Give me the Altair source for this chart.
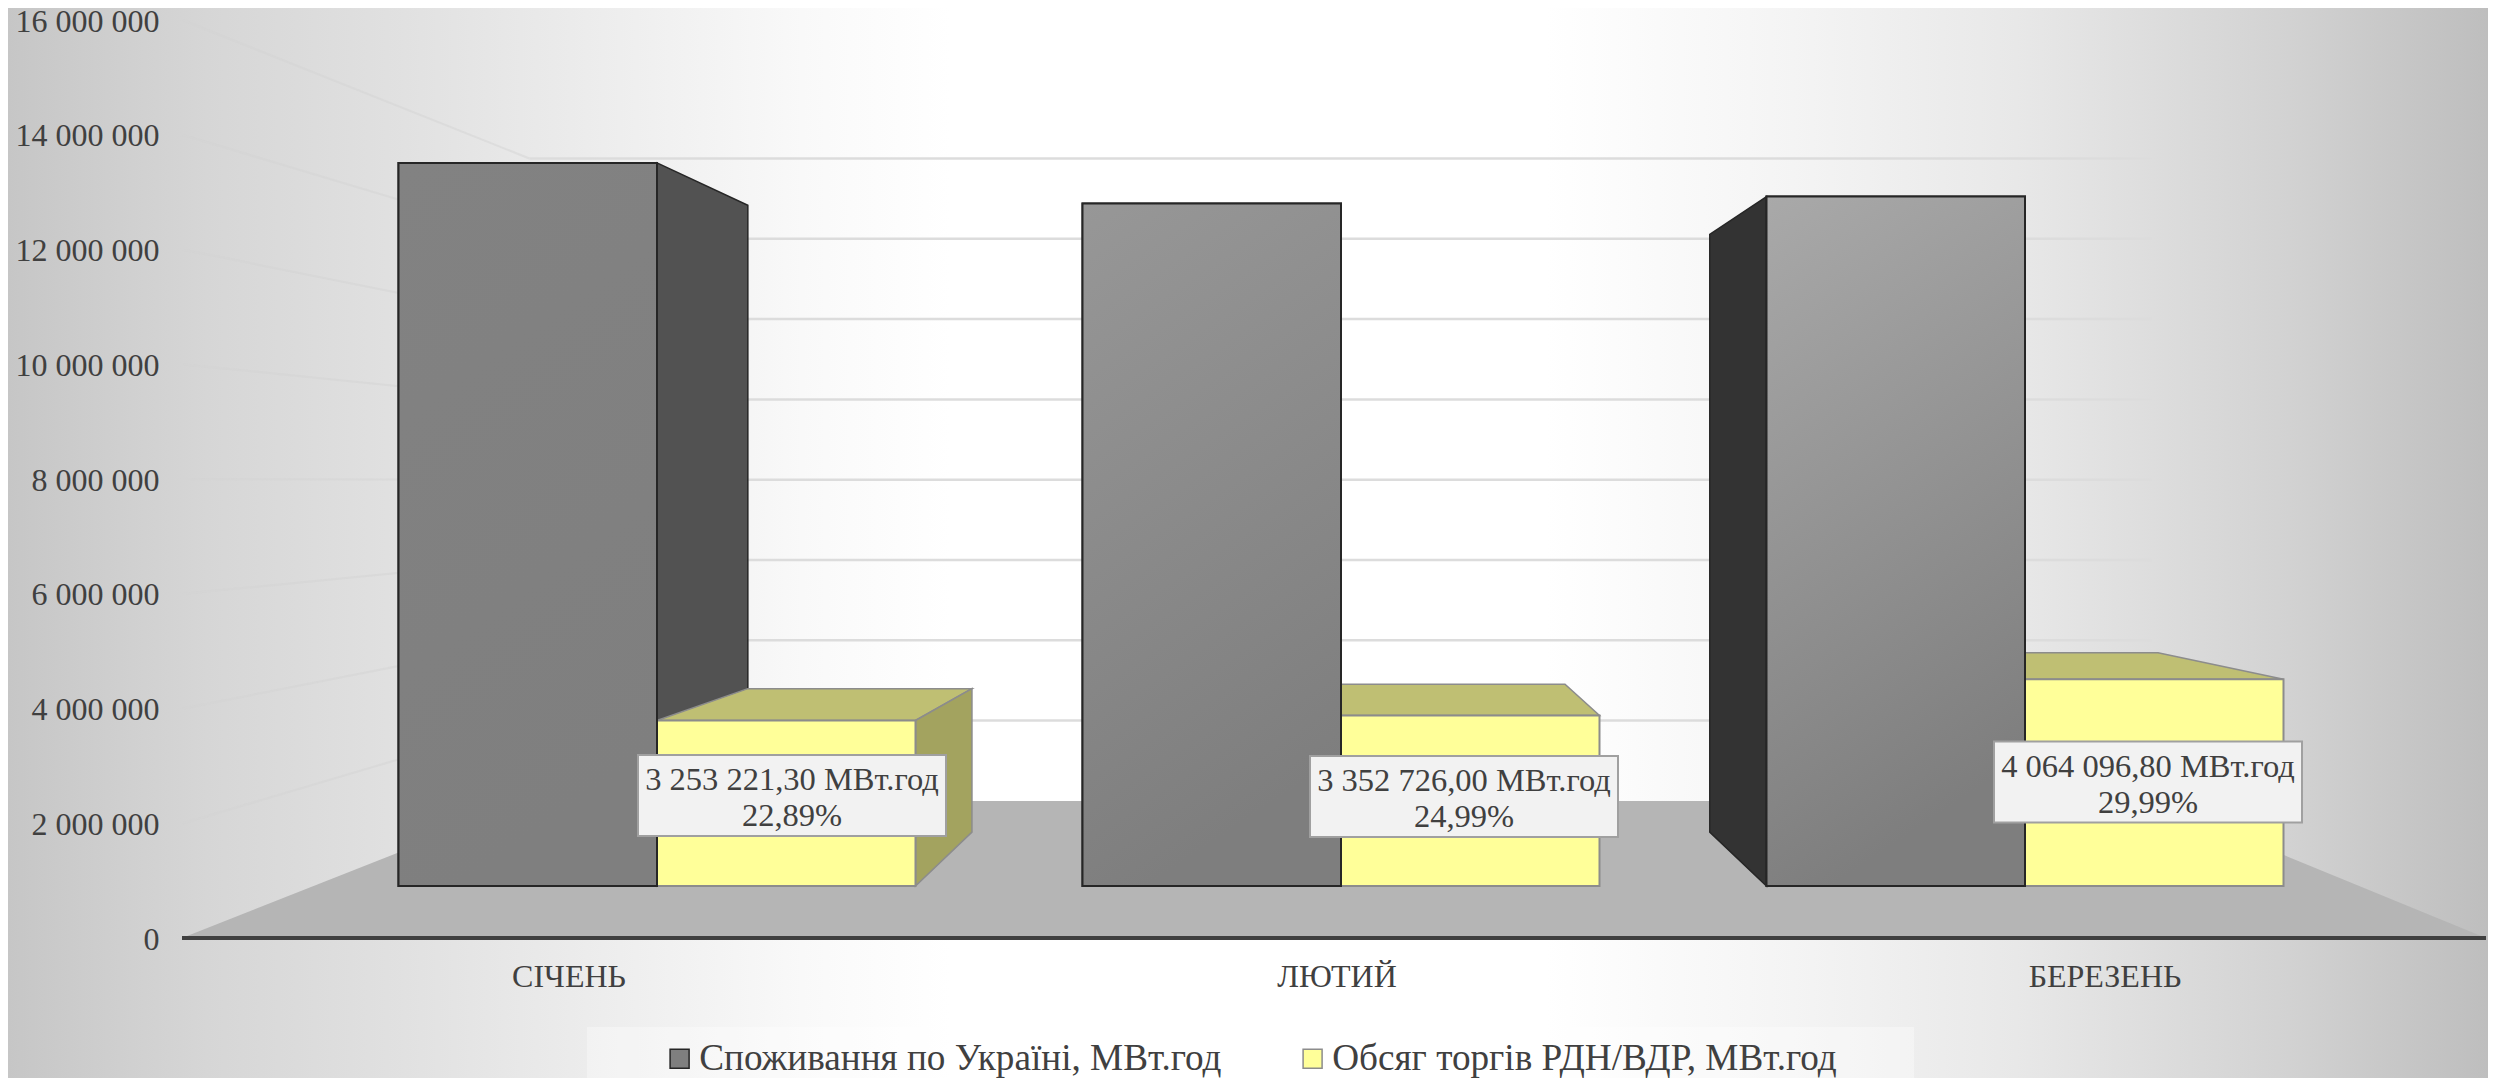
import altair as alt
import pandas as pd

# ---- chart values ----
MONTHS = ["СІЧЕНЬ", "ЛЮТИЙ", "БЕРЕЗЕНЬ"]
SERIES = ["Споживання по Україні, МВт.год", "Обсяг торгів РДН/ВДР, МВт.год"]
CONSUMPTION = [14212000, 13416000, 13551000]
TRADED = [3253221.30, 3352726.00, 4064096.80]
TRADED_LABELS = ["3 253 221,30 МВт.год", "3 352 726,00 МВт.год", "4 064 096,80 МВт.год"]
SHARE_LABELS = ["22,89%", "24,99%", "29,99%"]
AXIS_TICKS = [0, 2000000, 4000000, 6000000, 8000000, 10000000, 12000000, 14000000, 16000000]

# ---- layout: a small perspective model, in page pixels ----
W, H = 2480, 1070
Y0_PX, PX_PER_UNIT = 938.0, 57.36 / 1e6
def Yv(px):
    return (Y0_PX - px) / PX_PER_UNIT
VP_X, VP_Y = 1340.0, Yv(481)       # vanishing point
T_WALL, T_BAR = 0.30, 0.133        # depth of the back wall and of a bar
BAR_FORESHORTEN = 0.887
BASE = Yv(886)
FLOOR_X0, FLOOR_X1 = 182, 2486
BAR_MID = [657, 1341, 2025]
HALF = 258.5
LABEL_X = [792, 1464, 2148]
LABEL_Y = [795.5, 796.5, 782]
CAT_X = [569, 1337, 2105]
FONT = "Liberation Serif"
TXT = "#404040"

def back(x, y, t):
    return x + t * (VP_X - x), y + t * (VP_Y - y)

AXIS = alt.Axis(
    values=AXIS_TICKS, title=None, grid=False, domain=False, ticks=False, zindex=1,
    labelExpr="replace(format(datum.value, ','), /,/g, ' ')",
    labelFont=FONT, labelFontSize=32, labelColor=TXT, labelPadding=-151, labelOffset=1,
    labelAlign="right", labelBaseline="middle", labelOverlap=False, labelBound=False, labelFlush=False)

xs = alt.Scale(domain=[8, 8 + W], nice=False, zero=False)
ys = alt.Scale(domain=[Yv(8 + H), Yv(8)], nice=False, zero=False)
X = lambda f="x": alt.X(f"{f}:Q", scale=xs, axis=None)
Y = lambda f="y": alt.Y(f"{f}:Q", scale=ys, axis=AXIS)
X2 = lambda f="x2": alt.X2(f"{f}:Q")
Y2 = lambda f="y2": alt.Y2(f"{f}:Q")

def grad(stops, **k):
    return alt.LinearGradient(gradient="linear",
                              stops=[alt.GradientStop(color=c, offset=o) for o, c in stops], **k)

layers = []
def rect(x, x2, y, y2, **mk):
    return alt.Chart(pd.DataFrame([dict(x=x, x2=x2, y=y, y2=y2)])).mark_rect(**mk).encode(
        x=X(), x2=X2(), y=Y(), y2=Y2())

# background
layers.append(rect(8, 8 + W, Yv(8), Yv(8 + H), color=grad(
    [(0, "#c6c6c6"), (0.08, "#d6d6d6"), (0.16, "#e1e1e1"), (0.24, "#ededed"), (0.32, "#f9f9f9"),
     (0.38, "#ffffff"), (0.62, "#ffffff"), (0.72, "#f4f4f4"), (0.81, "#e8e8e8"), (0.86, "#dedede"),
     (0.92, "#d2d2d2"), (1, "#bebebe")], x1=0, x2=1, y1=0, y2=0)))
layers.append(rect(8, 8 + W, Yv(8), Yv(8 + H), color=alt.RadialGradient(
    gradient="radial", x1=0.5, y1=0.35, r1=0, x2=0.5, y2=0.35, r2=0.85,
    stops=[alt.GradientStop(color="rgba(0,0,0,0)", offset=0),
           alt.GradientStop(color="rgba(0,0,0,0)", offset=0.78),
           alt.GradientStop(color="rgba(0,0,0,0.06)", offset=1)])))

# legend backdrop
layers.append(rect(587, 1914, Yv(1027), Yv(8 + H), color="#ffffff", opacity=0.35))

# left wall lines and back wall grid
wall, grid = [], []
for v in AXIS_TICKS:
    bx, by = back(FLOOR_X0, v, T_WALL)
    if v > 0:
        wall.append(dict(x=FLOOR_X0 + 1, y=v, x2=bx, y2=by))
        grid.append(dict(x=bx, y=by, x2=2152, y2=by))
layers.append(alt.Chart(pd.DataFrame(wall)).mark_rule(color="#d4d4d4", strokeWidth=2, opacity=0.5).encode(
    x=X(), y=Y(), x2=X2(), y2=Y2()))
layers.append(alt.Chart(pd.DataFrame(grid)).mark_rule(color="#dcdcdc", strokeWidth=2.5).encode(
    x=X(), y=Y(), x2=X2(), y2=Y2()))

# floor
fl_bx, fl_by = back(FLOOR_X0, 0, T_WALL)
floor = pd.DataFrame([dict(y=0, x=FLOOR_X0, x2=FLOOR_X1), dict(y=fl_by, x=fl_bx, x2=2152)])
layers.append(alt.Chart(floor).mark_area(orient="horizontal", color="#b5b5b5").encode(
    y=Y(), x=X(), x2=X2()))

# geometry of the boxes
def side(ex, top, t, pid):
    bx, by = back(ex, top, t)
    _, bb = back(ex, BASE, t)
    return [dict(id=pid, x=ex, y=top, y2=BASE), dict(id=pid, x=bx, y=by, y2=bb)]
def top_face(x0, x1, top, t, pid):
    b0, by = back(x0, top, t)
    b1, _ = back(x1, top, t)
    return [dict(id=pid, y=top, x=x0, x2=x1), dict(id=pid, y=by, x=b0, x2=b1)]

grey_sides = {"#525252": [], "#333333": []}
yel_side, yel_top = [], []
for i, mid in enumerate(BAR_MID):
    gtop = BASE + CONSUMPTION[i] * BAR_FORESHORTEN
    ytop = BASE + TRADED[i] * BAR_FORESHORTEN
    l, r = mid - HALF, mid + HALF
    if mid < VP_X:
        grey_sides["#525252"] += side(mid, gtop, T_BAR, f"g{i}")
    if l > VP_X:
        grey_sides["#333333"] += side(l, gtop, T_BAR, f"g{i}")
    if r < VP_X:
        yel_side += side(r, ytop, T_BAR, f"y{i}")
    yel_top += top_face(mid, r, ytop, T_BAR, f"y{i}")

for c, rows in grey_sides.items():
    layers.append(alt.Chart(pd.DataFrame(rows)).mark_area(color=c, stroke="#262626", strokeWidth=1.5).encode(
        x=X(), y=Y(), y2=Y2(), detail="id:N"))
layers.append(alt.Chart(pd.DataFrame(yel_top)).mark_area(
    orient="horizontal", color="#bfbf73", stroke="#8c8c8c", strokeWidth=1.5).encode(
    y=Y(), x=X(), x2=X2(), detail="id:N"))
layers.append(alt.Chart(pd.DataFrame(yel_side)).mark_area(color="#a3a35f", stroke="#8c8c8c", strokeWidth=1.5).encode(
    x=X(), y=Y(), y2=Y2(), detail="id:N"))

# front faces (these carry the legend)
front = []
for i, mid in enumerate(BAR_MID):
    front.append(dict(s=SERIES[0], x=mid - HALF, x2=mid, y=BASE + CONSUMPTION[i] * BAR_FORESHORTEN, y2=BASE))
for i, mid in enumerate(BAR_MID):
    front.append(dict(s=SERIES[1], x=mid, x2=mid + HALF, y=BASE + TRADED[i] * BAR_FORESHORTEN, y2=BASE))
layers.append(alt.Chart(pd.DataFrame(front)).mark_rect(strokeWidth=2).encode(
    x=X(), x2=X2(), y=Y(), y2=Y2(),
    stroke=alt.Stroke("s:N", scale=alt.Scale(domain=SERIES, range=["#262626", "#8c8c8c"]), legend=None),
    color=alt.Color("s:N", title=None, scale=alt.Scale(domain=SERIES, range=["#7f7f7f", "#ffff99"]),
                    legend=alt.Legend(orient="none", legendX=653, legendY=1032, direction="horizontal",
                                      columns=2, symbolType="square", symbolSize=361,
                                      symbolStrokeColor="#595959", symbolStrokeWidth=1.5, symbolOpacity=1,
                                      labelFont=FONT, labelFontSize=37.2, labelColor=TXT, labelLimit=800,
                                      columnPadding=72, padding=0, labelOffset=1))))

# the grey shading differs per bar
SHADES = [("#828282", "#7f7f7f"), ("#979797", "#7e7e7e"), ("#a9a9a9", "#7e7e7e")]
for i, mid in enumerate(BAR_MID):
    layers.append(rect(mid - HALF, mid, BASE + CONSUMPTION[i] * BAR_FORESHORTEN, BASE,
                       color=grad([(0, SHADES[i][0]), (1, SHADES[i][1])], x1=0, x2=0.25, y1=0, y2=1),
                       stroke="#262626", strokeWidth=2))

# axis line
layers.append(alt.Chart(pd.DataFrame([dict(x=FLOOR_X0, x2=FLOOR_X1, y=0)])).mark_rule(
    color="#404040", strokeWidth=4).encode(x=X(), x2=X2(), y=Y()))

# category names
cats = pd.DataFrame(dict(x=CAT_X, y=[Yv(977)] * 3, t=MONTHS))
layers.append(alt.Chart(cats).mark_text(font=FONT, fontSize=32, color=TXT, baseline="middle").encode(
    x=X(), y=Y(), text="t:N"))

# data labels
boxes, texts = [], []
for i in range(3):
    boxes.append(dict(x=LABEL_X[i] - 154, x2=LABEL_X[i] + 154, y=Yv(LABEL_Y[i] - 40.5), y2=Yv(LABEL_Y[i] + 40.5)))
    texts.append(dict(x=LABEL_X[i], y=Yv(LABEL_Y[i] - 15.5), t=TRADED_LABELS[i]))
    texts.append(dict(x=LABEL_X[i], y=Yv(LABEL_Y[i] + 20.5), t=SHARE_LABELS[i]))
layers.append(alt.Chart(pd.DataFrame(boxes)).mark_rect(color="#f2f2f2", stroke="#a0a0a0", strokeWidth=2).encode(
    x=X(), x2=X2(), y=Y(), y2=Y2()))
layers.append(alt.Chart(pd.DataFrame(texts)).mark_text(font=FONT, fontSize=32.5, color=TXT, baseline="middle").encode(
    x=X(), y=Y(), text="t:N"))

chart = alt.layer(*layers).properties(
    width=W, height=H, padding=0, autosize=alt.AutoSizeParams(type="none")
).configure_view(stroke=None)

chart.save("out.html", embed_options={"renderer": "svg", "actions": False})
